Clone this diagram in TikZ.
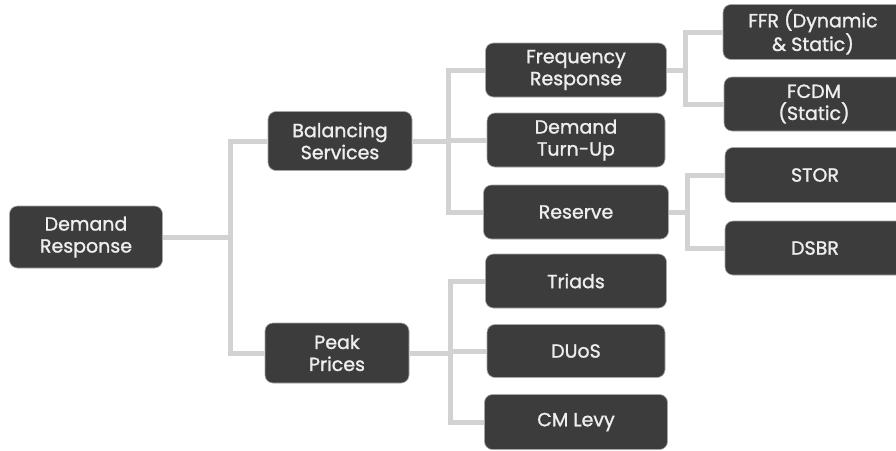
\documentclass[tikz,border=0pt]{standalone}
\usepackage{fontspec}
\setmainfont{Poppins}[FakeBold=1.3]
\usetikzlibrary{positioning}
\definecolor{boxgray}{HTML}{3C3C3C}
\definecolor{linegray}{HTML}{D2D2D2}
\definecolor{textgray}{HTML}{EEEEEE}
\begin{document}
\begin{tikzpicture}[x=1pt,y=-1pt,
		box/.style={fill=boxgray,draw=gray!70,line width=0.6pt,rounded corners=8pt,text=textgray,align=center,
			font=\fontsize{19}{22}\selectfont,inner sep=0pt},
		link/.style={draw=linegray,line width=5pt}]
		\clip (0,0) rectangle (896,450);
		\fill[white] (0,0) rectangle (896,450);
		% boxes
		\node[box,minimum width=153,minimum height=62] (dr) at (86,237) {Demand\\Response};
		\node[box,minimum width=144,minimum height=59] (bs) at (340,141) {Balancing\\Services};
		\node[box,minimum width=144,minimum height=60] (pp) at (337,353) {Peak\\Prices};
		\node[box,minimum width=181,minimum height=54] (fr) at (576,70) {Frequency\\Response};
		\node[box,minimum width=178,minimum height=54] (dtu) at (576,140) {Demand\\Turn-Up};
		\node[box,minimum width=185,minimum height=54] (res) at (576,212) {Reserve};
		\node[box,minimum width=181,minimum height=54] (tri) at (576,281) {Triads};
		\node[box,minimum width=178,minimum height=53] (duos) at (576,351) {DUoS};
		\node[box,minimum width=183,minimum height=55] (cml) at (576,422) {CM Levy};
		\node[box,minimum width=180,minimum height=55] (ffr) at (813,32) {FFR (Dynamic\\\& Static)};
		\node[box,minimum width=180,minimum height=54] (fcdm) at (814,104) {FCDM\\(Static)};
		\node[box,minimum width=180,minimum height=55] (stor) at (815,175) {STOR};
		\node[box,minimum width=180,minimum height=54] (dsbr) at (815,248) {DSBR};
		% forks
		\coordinate (j1) at (230,237);
		\coordinate (j2) at (448,141);
		\coordinate (j3) at (450,353);
		\coordinate (j4) at (685,70);
		\coordinate (j5) at (687,212);
		\draw[link] (dr.east) -- (j1);
		\draw[link] (bs.west) -| (j1);
		\draw[link] (pp.west) -| (j1);
		\draw[link] (bs.east) -- (j2);
		\draw[link] (fr.west) -| (j2);
		\draw[link] (dtu.west) -| (j2);
		\draw[link] (res.west) -| (j2);
		\draw[link] (pp.east) -- (j3);
		\draw[link] (tri.west) -| (j3);
		\draw[link] (duos.west) -| (j3);
		\draw[link] (cml.west) -| (j3);
		\draw[link] (fr.east) -- (j4);
		\draw[link] (ffr.west) -| (j4);
		\draw[link] (fcdm.west) -| (j4);
		\draw[link] (res.east) -- (j5);
		\draw[link] (stor.west) -| (j5);
		\draw[link] (dsbr.west) -| (j5);
	\end{tikzpicture}
\end{document}
